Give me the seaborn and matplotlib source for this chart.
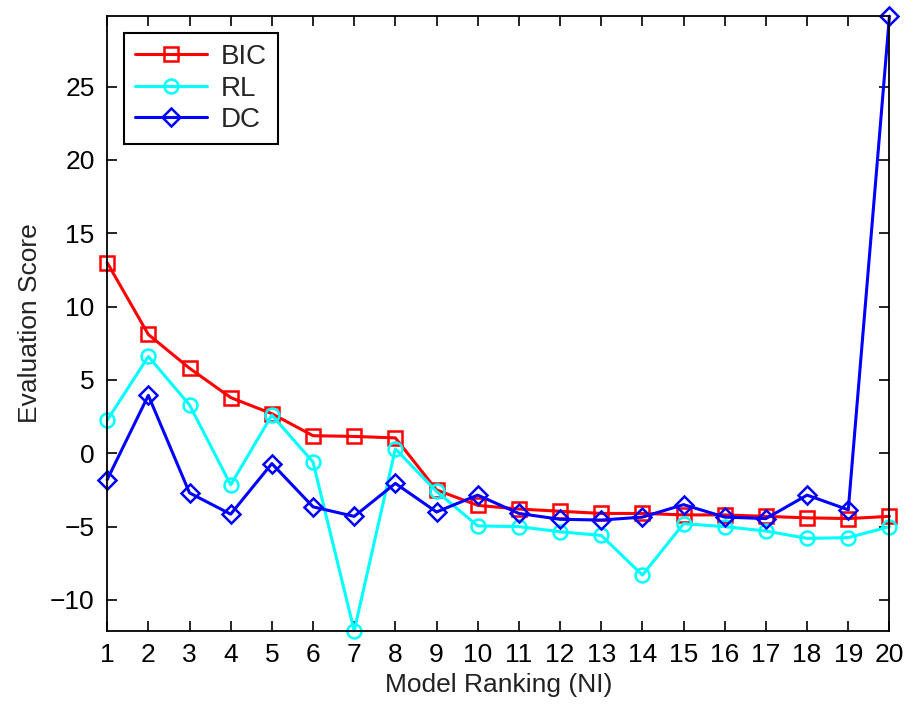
import numpy as np
import pandas as pd
import matplotlib
matplotlib.use('Agg')
import matplotlib.pyplot as plt
import seaborn as sns

# values
ranking = list(range(1, 21))
bic = [13.0, 8.1, 5.8, 3.8, 2.7, 1.2, 1.15, 1.05, -2.5, -3.55,
       -3.8, -3.95, -4.1, -4.1, -4.2, -4.2, -4.3, -4.4, -4.45, -4.3]
rl = [2.25, 6.6, 3.3, -2.15, 2.6, -0.6, -12.1, 0.3, -2.6, -4.95,
      -5.0, -5.35, -5.6, -8.3, -4.8, -5.0, -5.3, -5.8, -5.75, -5.0]
dc = [-1.8, 3.95, -2.7, -4.15, -0.7, -3.65, -4.3, -2.05, -4.0, -2.85,
      -4.1, -4.5, -4.55, -4.35, -3.5, -4.35, -4.45, -2.85, -3.85, 29.8]

series = ['BIC', 'RL', 'DC']
colors = {'BIC': '#ff0000', 'RL': '#00ffff', 'DC': '#0000ff'}
markers = {'BIC': 's', 'RL': 'o', 'DC': 'D'}

df = pd.DataFrame({'rank': ranking * 3,
                   'score': bic + rl + dc,
                   'method': np.repeat(series, len(ranking))})

sns.set_style('ticks')
plt.rcParams['font.family'] = ['Liberation Sans', 'DejaVu Sans']

fig = plt.figure(figsize=(9.16, 7.04), dpi=100)
ax = fig.add_axes([0.117, 0.104, 0.854, 0.873])

for name in series:
    sub = df[df['method'] == name]
    sns.lineplot(data=sub, x='rank', y='score', ax=ax, color=colors[name],
                 marker=markers[name], markersize=10 if name != 'DC' else 9,
                 markerfacecolor='none', markeredgecolor=colors[name],
                 markeredgewidth=1.8, linewidth=2.2, label=name, clip_on=False)

ax.set_xlim(min(ranking), max(ranking))
ax.set_ylim(df['score'].min(), df['score'].max())
ax.set_xticks(ranking)
ax.set_yticks([-10, -5, 0, 5, 10, 15, 20, 25])
ax.tick_params(direction='in', length=7, width=1.2, top=True, right=True,
               labelsize=19, colors='black', pad=9)
for sp in ax.spines.values():
    sp.set_visible(True)
    sp.set_linewidth(1.3)
    sp.set_color('black')

ax.set_xlabel('Model Ranking (NI)', fontsize=19, labelpad=4, color='#222222')
ax.set_ylabel('Evaluation Score', fontsize=19, labelpad=6, color='#222222')

leg = ax.legend(loc='upper left', fontsize=20, frameon=True, fancybox=False,
                handlelength=2.6, borderaxespad=0.6, labelspacing=0.2,
                handletextpad=0.5, borderpad=0.4)
leg.get_frame().set_edgecolor('black')
leg.get_frame().set_linewidth(1.5)
leg.get_frame().set_alpha(1)

fig.savefig('out.png', dpi=100)
